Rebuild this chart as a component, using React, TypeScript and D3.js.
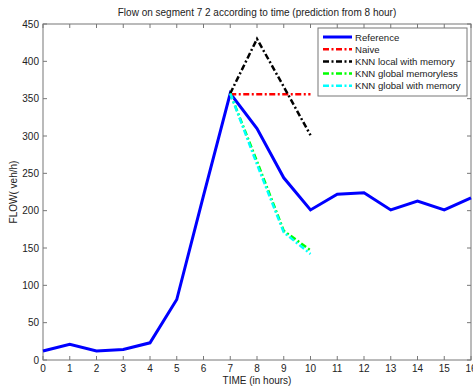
import React from "react";
import * as d3 from "d3";

const hours = d3.range(0, 17);
const reference = [12, 21, 12, 14, 23, 81, 220, 357, 310, 244, 201, 222, 224, 201, 213, 201, 217];
const predHours = [7, 8, 9, 10];
const naive = [356, 356, 356, 356];
const knnLocalMemory = [357, 430, 366, 301];
const knnGlobalMemoryless = [357, 266, 173, 147];
const knnGlobalMemory = [357, 262, 171, 142];
const xTicks = d3.range(0, 17);
const yTicks = d3.range(0, 451, 50);

const seriesNames = ["Reference", "Naive", "KNN local with memory", "KNN global memoryless", "KNN global with memory"];
const seriesColors = ["#0000ff", "#ff0000", "#000000", "#00ff00", "#00ffff"];

export default function App() {
  const W = 473, H = 389;
  const left = 43, right = 471, top = 24, bottom = 360;
  const x = d3.scaleLinear().domain([0, 16]).range([left, right]);
  const y = d3.scaleLinear().domain([0, 450]).range([bottom, top]);
  const line = d3.line<[number, number]>().x(d => x(d[0])).y(d => y(d[1]));
  const font = "Liberation Sans, Arial, sans-serif";
  const axisColor = "#777";
  const dash = "6,2.5,2,2.5";

  const preds = [naive, knnLocalMemory, knnGlobalMemoryless, knnGlobalMemory];

  return (
    <svg width={W} height={H} style={{ position: "absolute", left: 0, top: 0, background: "#fff" }} fontFamily={font}>
      <rect x={0} y={0} width={W} height={H} fill="#fff" />
      <rect x={left} y={top} width={right - left} height={bottom - top} fill="none" stroke={axisColor} strokeWidth={1} />
      {xTicks.map(t => (
        <g key={"x" + t}>
          <line x1={x(t)} x2={x(t)} y1={bottom} y2={bottom - 4} stroke={axisColor} />
          <line x1={x(t)} x2={x(t)} y1={top} y2={top + 4} stroke={axisColor} />
          <text x={x(t)} y={bottom + 12} fontSize={10} textAnchor="middle" fill="#222">{t}</text>
        </g>
      ))}
      {yTicks.map(t => (
        <g key={"y" + t}>
          <line x1={left} x2={left + 4} y1={y(t)} y2={y(t)} stroke={axisColor} />
          <line x1={right} x2={right - 4} y1={y(t)} y2={y(t)} stroke={axisColor} />
          <text x={left - 4} y={y(t) + 3.5} fontSize={10} textAnchor="end" fill="#222">{t}</text>
        </g>
      ))}
      <text x={(left + right) / 2} y={16} fontSize={10} textAnchor="middle" fill="#222">Flow on segment 7 2 according to time (prediction from 8 hour)</text>
      <text x={(left + right) / 2} y={384} fontSize={10} textAnchor="middle" fill="#222">TIME (in hours)</text>
      <text transform={`translate(17,${(top + bottom) / 2}) rotate(-90)`} fontSize={10} textAnchor="middle" fill="#222">FLOW( veh/h)</text>

      <path d={line(hours.map((h, i) => [h, reference[i]]) as [number, number][]) || ""} fill="none" stroke={seriesColors[0]} strokeWidth={3} strokeLinejoin="miter" />
      {preds.map((s, k) => (
        <path key={k} d={line(predHours.map((h, i) => [h, s[i]]) as [number, number][]) || ""} fill="none" stroke={seriesColors[k + 1]} strokeWidth={2.5} strokeDasharray={dash} />
      ))}

      <rect x={318} y={28} width={149} height={68} fill="#fff" stroke={axisColor} strokeWidth={1} />
      {seriesNames.map((n, i) => {
        const ly = 37 + i * 12.2;
        return (
          <g key={n}>
            <line x1={323} x2={352} y1={ly} y2={ly} stroke={seriesColors[i]} strokeWidth={i === 0 ? 3 : 2.5} strokeDasharray={i === 0 ? undefined : dash} />
            <text x={355} y={ly + 3.5} fontSize={9.6} fill="#222">{n}</text>
          </g>
        );
      })}
    </svg>
  );
}
